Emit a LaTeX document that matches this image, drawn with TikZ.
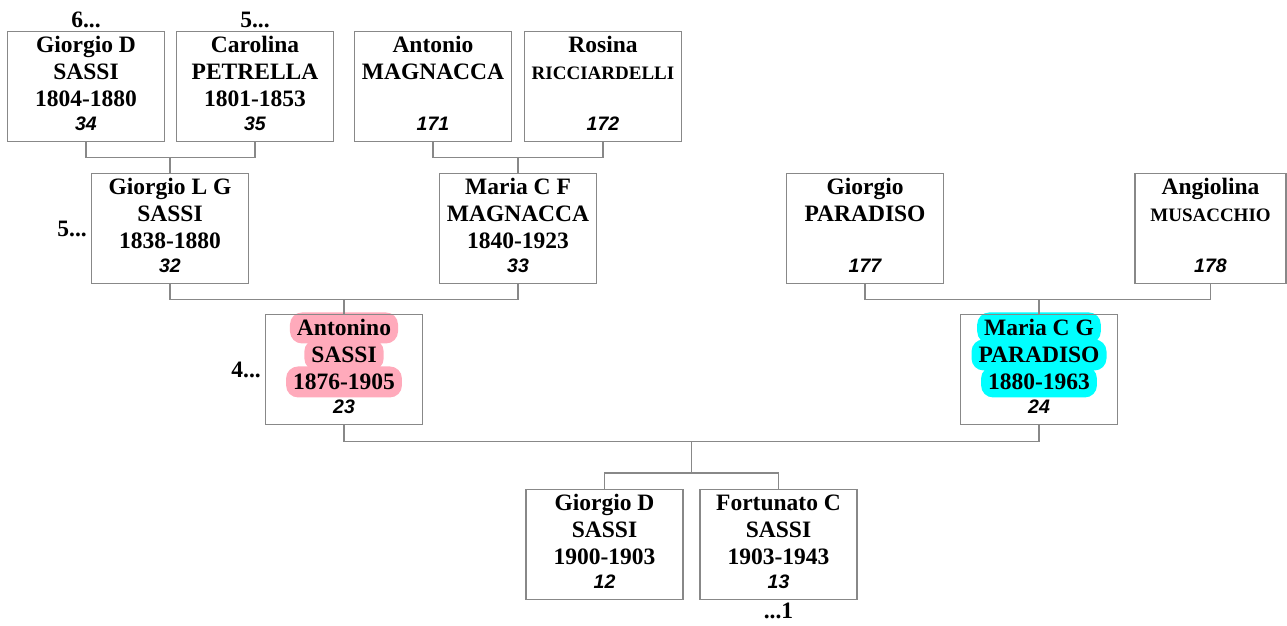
\documentclass[tikz,border=0pt]{standalone}
\usepackage{fontspec}
\setmainfont{Liberation Serif}
\setsansfont{Liberation Sans}
\usetikzlibrary{positioning,calc,backgrounds}
\definecolor{boxgray}{RGB}{136,136,136}
\definecolor{hlpinkc}{RGB}{255,170,187}
\definecolor{hlcyanc}{RGB}{0,255,255}
\newcommand\namefont{\fontsize{23.5}{27}\selectfont\bfseries}
\newcommand\minorname{\fontsize{19}{27}\selectfont}
\newcommand\pid[1]{\\[-3pt]{\sffamily\itshape\fontsize{19.5}{27}\selectfont #1\rule[-6pt]{0pt}{0pt}}}
\tikzset{
  person/.style={draw=boxgray,line width=1.1pt,minimum width=157pt,
    minimum height=110pt,inner sep=0pt,align=center,font=\namefont},
  link/.style={draw=boxgray,line width=1.1pt},
  more/.style={font=\namefont,inner sep=1pt},
  hlpink/.style={fill=hlpinkc,rounded corners=12pt,minimum height=31pt,
    inner xsep=7pt,inner ysep=0pt,font=\namefont},
  hlcyan/.style={hlpink,fill=hlcyanc},
}
\begin{document}
\begin{tikzpicture}[x=1pt,y=-1pt]
\useasboundingbox (0,0) rectangle (1287,625);

% great-grandparents
\node[person] (gds) at (86,86.5) {Giorgio D\\SASSI\\1804-1880\pid{34}};
\node[person] (cpe) at (255,86.5) {Carolina\\PETRELLA\\1801-1853\pid{35}};
\node[person] (ama) at (433,86.5) {Antonio\\MAGNACCA\\\mbox{}\pid{171}};
\node[person] (rri) at (603,86.5) {Rosina\\{\minorname RICCIARDELLI}\\\mbox{}\pid{172}};
\node[more, above=2pt of gds] (gds-more) {6...};
\node[more, above=2pt of cpe] (cpe-more) {5...};

% grandparents
\node[person] (gls) at (170,228.5) {Giorgio L G\\SASSI\\1838-1880\pid{32}};
\node[person] (mcf) at (518,228.5) {Maria C F\\MAGNACCA\\1840-1923\pid{33}};
\node[person] (gpa) at (865,228.5) {Giorgio\\PARADISO\\\mbox{}\pid{177}};
\node[person, minimum width=151pt] (amu) at (1210.5,228.5) {Angiolina\\{\minorname MUSACCHIO}\\\mbox{}\pid{178}};
\node[more, left=3pt of gls] (gls-more) {5...};

% parents
\node[person] (ant) at (344,369.5) {Antonino\\SASSI\\1876-1905\pid{23}};
\node[person] (mcg) at (1039,369.5) {Maria C G\\PARADISO\\1880-1963\pid{24}};
\node[more, left=3pt of ant] (ant-more) {4...};

% children
\node[person] (gdc) at (604.5,544.5) {Giorgio D\\SASSI\\1900-1903\pid{12}};
\node[person] (fcs) at (778.5,544.5) {Fortunato C\\SASSI\\1903-1943\pid{13}};
\node[more, below=2pt of fcs] (fcs-more) {...1};

% highlighted names
\begin{scope}[on background layer]
\node[hlpink] at ($(ant.north)+(0,14)$) {\phantom{Antonino}};
\node[hlpink] at ($(ant.north)+(0,41)$) {\phantom{SASSI}};
\node[hlpink] at ($(ant.north)+(0,68)$) {\phantom{1876-1905}};
\node[hlcyan] at ($(mcg.north)+(0,14)$) {\phantom{Maria C G}};
\node[hlcyan] at ($(mcg.north)+(0,41)$) {\phantom{PARADISO}};
\node[hlcyan] at ($(mcg.north)+(0,68)$) {\phantom{1880-1963}};
\end{scope}

% family lines
\draw[link] (gds.south) -- ++(0,15) -| (cpe.south);
\draw[link] (gls.north) -- ++(0,-16);
\draw[link] (ama.south) -- ++(0,15) -| (rri.south);
\draw[link] (mcf.north) -- ++(0,-16);
\draw[link] (gls.south) -- ++(0,15) -| (mcf.south);
\draw[link] (ant.north) -- ++(0,-15);
\draw[link] (gpa.south) -- ++(0,15) -| (amu.south);
\draw[link] (mcg.north) -- ++(0,-15);
\draw[link] (ant.south) -- ++(0,16) -| (mcg.south);
\draw[link] (gdc.north) -- ++(0,-16) -| (fcs.north);
\coordinate (par) at ($(ant.south)!0.5!(mcg.south)+(0,16)$);
\coordinate (sib) at ($(gdc.north)!0.5!(fcs.north)+(0,-16)$);
\draw[link] (par) -- (sib);
\end{tikzpicture}
\end{document}
